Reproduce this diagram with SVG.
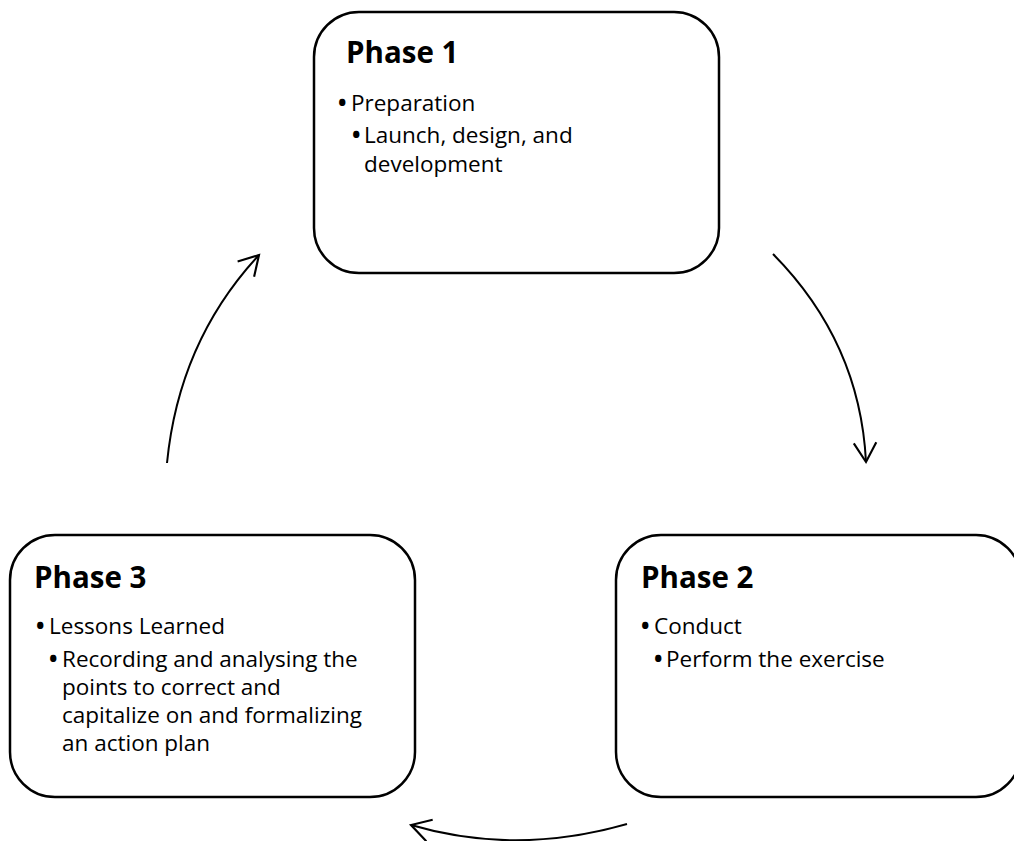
<svg xmlns="http://www.w3.org/2000/svg" width="1014" height="841" viewBox="0 0 1014 841">
  <defs>
    <style>
      .box { fill: #ffffff; stroke: #000000; stroke-width: 2.5; }
      .head { font-family: "Open Sans", "Liberation Sans", sans-serif; font-weight: bold; font-size: 29.5px; fill: #000000; }
      .body { font-family: "Open Sans", "Liberation Sans", sans-serif; font-size: 22.5px; fill: #000000; }
      .dot { font-weight: bold; }
      .arrow { fill: none; stroke: #000000; stroke-width: 2; marker-end: url(#chevron); }
    </style>
    <marker id="chevron" markerUnits="userSpaceOnUse" markerWidth="30" markerHeight="30" viewBox="-22 -14 26 28" refX="0" refY="0" orient="auto" overflow="visible">
      <path d="M-18,-10.5 L0,0 L-18,10.5" fill="none" stroke="#000000" stroke-width="2"/>
    </marker>
  </defs>
  <rect width="1014" height="841" fill="#ffffff"/>

  <g id="connectors">
    <path class="arrow" d="M773,254 Q860,342 866,462"/>
    <path class="arrow" d="M627,824 Q516,856 411,825"/>
    <path class="arrow" d="M167,463 Q179,341 259,255"/>
  </g>

  <g id="phase1">
    <rect class="box" x="314" y="12" width="405" height="261" rx="45" ry="45"/>
    <text class="head" x="346" y="63">Phase 1</text>
    <text class="body" y="111"><tspan class="dot" x="338">•</tspan><tspan x="351">Preparation</tspan></text>
    <text class="body" y="143"><tspan class="dot" x="352">•</tspan><tspan x="364">Launch, design, and</tspan></text>
    <text class="body" x="364" y="172">development</text>
  </g>

  <g id="phase2">
    <rect class="box" x="616" y="535" width="405" height="262" rx="45" ry="45"/>
    <text class="head" x="641" y="588">Phase 2</text>
    <text class="body" y="634"><tspan class="dot" x="641">•</tspan><tspan x="654">Conduct</tspan></text>
    <text class="body" y="667"><tspan class="dot" x="654">•</tspan><tspan x="666">Perform the exercise</tspan></text>
  </g>

  <g id="phase3">
    <rect class="box" x="10" y="535" width="405" height="262" rx="45" ry="45"/>
    <text class="head" x="34" y="588">Phase 3</text>
    <text class="body" y="634"><tspan class="dot" x="36">•</tspan><tspan x="49">Lessons Learned</tspan></text>
    <text class="body" y="667"><tspan class="dot" x="49">•</tspan><tspan x="62">Recording and analysing the</tspan></text>
    <text class="body" x="62" y="695">points to correct and</text>
    <text class="body" x="62" y="723">capitalize on and formalizing</text>
    <text class="body" x="62" y="751">an action plan</text>
  </g>
</svg>
